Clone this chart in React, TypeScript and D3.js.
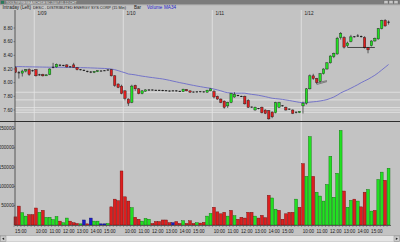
import React from "react";
import * as d3 from "d3";

const W = 400;
const H = 242;

// ---- categories ----
const days = ["1/08", "1/09", "1/10", "1/11", "1/12"];
const slots = [
  "09:30","09:45","10:00","10:15","10:30","10:45","11:00","11:15","11:30","11:45",
  "12:00","12:15","12:30","12:45","13:00","13:15","13:30","13:45","14:00","14:15",
  "14:30","14:45","15:00","15:15","15:30","15:45",
];
const firstDayStartSlot = 20; // 1/08 starts at 14:30
const hourTicks = ["10:00", "11:00", "12:00", "13:00", "14:00", "15:00"];

// ---- series values (15 min bars) ----
const opens = [
  8.22,8.15,8.14,8.17,8.19,8.18,
  8.19,8.11,8.12,8.10,8.12,8.22,8.23,8.26,8.25,8.26,8.23,8.26,8.22,8.19,8.185,8.17,8.16,8.15,8.16,8.17,8.175,8.18,8.19,8.10,7.98,7.95,
  7.88,7.76,7.71,7.96,7.91,7.84,7.875,7.89,7.895,7.89,7.89,7.89,7.885,7.88,7.88,7.885,7.875,7.87,7.90,7.88,7.865,7.86,7.87,7.87,7.86,7.88,
  7.87,7.80,7.76,7.73,7.66,7.71,7.79,7.815,7.80,7.80,7.74,7.645,7.60,7.625,7.64,7.60,7.59,7.57,7.56,7.64,7.665,7.64,7.615,7.60,7.565,7.56,
  7.66,7.70,7.91,8.10,8.06,8.02,8.13,8.20,8.29,8.38,8.42,8.66,8.66,8.54,8.60,8.67,8.68,8.68,8.66,8.51,8.54,8.61,8.64,8.79,8.91,8.88,
];
const highs = [
  8.24,8.17,8.19,8.20,8.21,8.19,
  8.20,8.13,8.13,8.12,8.21,8.29,8.28,8.27,8.26,8.27,8.24,8.29,8.23,8.20,8.19,8.175,8.17,8.17,8.18,8.18,8.18,8.195,8.20,8.11,7.99,7.97,
  7.89,7.77,7.97,7.97,7.92,7.89,7.90,7.905,7.90,7.895,7.895,7.895,7.89,7.885,7.885,7.89,7.88,7.91,7.905,7.885,7.87,7.875,7.875,7.875,7.895,7.915,
  7.89,7.81,7.77,7.74,7.72,7.85,7.86,7.82,7.81,7.81,7.76,7.65,7.65,7.63,7.65,7.61,7.60,7.58,7.72,7.72,7.67,7.65,7.62,7.61,7.575,7.58,
  7.72,7.92,8.12,8.13,8.07,8.14,8.21,8.30,8.40,8.44,8.67,8.74,8.68,8.60,8.70,8.68,8.71,8.69,8.68,8.52,8.62,8.66,8.80,8.92,8.93,8.91,
];
const lows = [
  8.14,8.06,8.09,8.15,8.10,8.16,
  8.09,8.10,8.09,8.10,8.11,8.21,8.22,8.24,8.24,8.22,8.22,8.22,8.18,8.18,8.17,8.15,8.14,8.14,8.155,8.165,8.17,8.175,8.09,7.94,7.92,7.83,
  7.74,7.66,7.70,7.88,7.83,7.83,7.87,7.88,7.885,7.88,7.88,7.875,7.875,7.87,7.875,7.87,7.865,7.865,7.875,7.855,7.855,7.855,7.86,7.855,7.855,7.875,
  7.77,7.75,7.70,7.62,7.63,7.70,7.78,7.80,7.79,7.68,7.63,7.63,7.59,7.61,7.55,7.54,7.46,7.48,7.55,7.63,7.65,7.59,7.60,7.54,7.55,7.555,
  7.55,7.68,7.90,8.04,7.98,8.00,8.12,8.19,8.28,8.36,8.41,8.63,8.50,8.52,8.59,8.66,8.67,8.66,8.50,8.43,8.53,8.60,8.63,8.78,8.82,8.85,
];
const closes = [
  8.15,8.14,8.17,8.19,8.12,8.17,
  8.10,8.12,8.10,8.115,8.20,8.23,8.27,8.25,8.255,8.23,8.235,8.225,8.19,8.19,8.175,8.16,8.15,8.165,8.175,8.17,8.175,8.19,8.10,7.96,7.93,7.84,
  7.77,7.70,7.95,7.91,7.84,7.88,7.895,7.895,7.89,7.885,7.885,7.88,7.88,7.875,7.88,7.875,7.87,7.905,7.88,7.86,7.86,7.87,7.865,7.86,7.89,7.91,
  7.79,7.76,7.71,7.64,7.71,7.84,7.83,7.81,7.795,7.69,7.64,7.64,7.64,7.62,7.56,7.55,7.47,7.50,7.71,7.71,7.66,7.60,7.61,7.55,7.57,7.58,
  7.70,7.91,8.10,8.06,8.00,8.13,8.20,8.29,8.39,8.43,8.65,8.72,8.52,8.58,8.67,8.675,8.685,8.67,8.51,8.48,8.61,8.65,8.79,8.91,8.83,8.89,
];
const volumes = [
  21000,49000,32000,23000,27000,27000,
  44000,33000,38000,20000,20000,14000,22000,10000,6000,18000,10000,6000,4000,3000,13000,3000,18000,10000,10000,3000,3000,4000,47000,67000,63000,140000,
  73000,62000,45000,20000,15000,10000,17000,15000,4000,9000,9000,13000,13000,6000,6000,9000,4000,11000,4000,11000,4000,6000,5000,7000,23000,30000,
  46000,34000,29000,33000,23000,38000,24000,15000,20000,18000,33000,33000,23000,18000,25000,19000,77000,70000,41000,38000,15000,29000,33000,33000,67000,46000,
  159000,126000,229000,126000,85000,75000,62000,105000,178000,72000,134000,245000,88000,46000,64000,67000,62000,47000,85000,92000,36000,38000,118000,137000,116000,147000,
];
// volume tick direction: u = up, d = down, n = unchanged
const volDir = [
  "d","d","u","u","d","d",
  "d","u","d","u","u","u","u","d","u","u","d","d","d","u","n","d","n","u","u","n","n","u","d","d","d","d",
  "d","d","u","d","d","u","u","u","d","d","d","d","d","d","n","d","d","u","d","d","d","u","d","d","u","u",
  "d","d","d","d","u","d","u","d","d","d","d","d","u","d","d","d","d","u","u","d","d","d","d","d","u","d",
  "d","u","u","d","u","u","u","u","u","u","u","u","d","u","u","d","u","d","d","u","u","d","u","u","d","u",
];
// MA34 as drawn on the chart before the 34-bar window is filled
const maHead = [
  8.235,8.235,8.234,8.233,8.232,8.231,8.230,8.229,8.228,8.227,
  8.226,8.226,8.225,8.225,8.224,8.224,8.223,8.222,8.221,8.220,
  8.219,8.218,8.216,8.214,8.212,8.210,8.208,8.205,8.200,8.190,8.176,8.160,8.145,
];
const maPeriod = 34;

// horizontal price levels drawn on the chart
const levels = [7.86, 7.748, 7.635, 7.60, 7.566];
const supportLevel = 8.515;
const supportFrom = 97;
const supportTo = 105;
const markLine = { from: 88, to: 91, p1: 7.995, p2: 8.03 };

const priceTicks = [7.6, 7.8, 8.0, 8.2, 8.4, 8.6, 8.8];
const volTicks = [50000, 100000, 150000, 200000, 250000];

const COL = {
  bg: "#c3c3c3",
  up: "#22e022",
  upEdge: "#0a6a0a",
  dn: "#dd1f1f",
  dnEdge: "#6a0a0a",
  flat: "#1c1cc8",
  flatEdge: "#0a0a60",
  ma: "#6b6bc8",
  light: "#e6e6e6",
  axis: "#3a3a3a",
  text: "#202020",
};

export default function App() {
  // build bar categories
  const cats: { day: string; time: string }[] = [];
  days.forEach((d, di) => {
    const s = di === 0 ? firstDayStartSlot : 0;
    for (let k = s; k < slots.length; k++) cats.push({ day: d, time: slots[k] });
  });
  const N = closes.length;
  const idx = d3.range(N);

  const x = d3.scaleBand<number>().domain(idx).range([14, 390]).paddingInner(0.16).paddingOuter(0);
  const step = x.step();
  const bw = x.bandwidth();
  const cx = (i: number) => (x(i) as number) + bw / 2;

  const py = d3.scaleLinear().domain([7.6, 8.8]).range([110, 28]);
  const vy = d3.scaleLinear().domain([0, 250000]).range([225, 128.5]);

  const ma = idx.map((i) =>
    i < maPeriod - 1 ? maHead[i] : d3.mean(closes.slice(i - maPeriod + 1, i + 1)) as number
  );
  const maLine = d3
    .line<number>()
    .x((i) => cx(i))
    .y((i) => py(ma[i]))
    .curve(d3.curveLinear);

  const dayStarts = idx.filter((i) => i > 0 && cats[i].day !== cats[i - 1].day);
  const hourIdx = idx.filter((i) => hourTicks.includes(cats[i].time));

  const fs = 4.6;
  const font = "Liberation Sans, Arial, sans-serif";

  const priceTop = 10;
  const priceBot = 121;
  const volTop = 122;
  const volBot = 226;

  const candleW = Math.max(1.6, bw * 0.82);

  return (
    <svg
      width={W}
      height={H}
      viewBox={`0 0 ${W} ${H}`}
      style={{ position: "absolute", left: 0, top: 0, display: "block" }}
      fontFamily={font}
    >
      <defs>
        <clipPath id="pclip">
          <rect x={15} y={priceTop} width={W - 15} height={priceBot - priceTop} />
        </clipPath>
      </defs>
      <rect x={0} y={0} width={W} height={H} fill={COL.bg} />
      {/* window title bar */}
      <rect x={0} y={0} width={W} height={4.5} fill="#7c7c7c" />
      <rect x={1} y={0.8} width={3} height={3} fill="#2a7a5a" />
      <text x={6} y={3.6} fontSize={3.4} fill="#e8e8e8">
        TOOLTIP/RESEARCH/DESC 2007-01-12.CHT
      </text>
      <rect x={384} y={0.6} width={4} height={3.2} fill="#c8c8c8" stroke="#555" strokeWidth={0.3} />
      <rect x={389} y={0.6} width={4} height={3.2} fill="#c8c8c8" stroke="#555" strokeWidth={0.3} />
      <rect x={394} y={0.6} width={4} height={3.2} fill="#c8c8c8" stroke="#555" strokeWidth={0.3} />
      <line x1={0} y1={4.8} x2={W} y2={4.8} stroke="#9a9a9a" strokeWidth={0.6} />

      {/* header */}
      <text x={2.5} y={9} fontSize={fs} fill={COL.text}>Intraday (Left)</text>
      <text x={33} y={9} fontSize={3.7} fill={COL.text} textLength={93} lengthAdjust="spacingAndGlyphs">
        DESC - DISTRIBUTED ENERGY SYS CORP (15 Min)
      </text>
      <text x={134} y={9} fontSize={fs} fill={COL.text}>Bar</text>
      <text x={147} y={9} fontSize={fs} fill="#2424c8">Volume</text>
      <text x={164} y={9} fontSize={fs} fill="#2424c8">MA34</text>

      {/* price panel */}
      <g>
        {levels.map((p, k) => (
          <line key={"lv" + k} x1={15} x2={W} y1={py(p)} y2={py(p)} stroke={COL.light} strokeWidth={0.8} />
        ))}
        {dayStarts.map((i) => (
          <line key={"dl" + i} x1={(x(i) as number) - (step - bw) / 2} x2={(x(i) as number) - (step - bw) / 2} y1={priceTop} y2={priceBot} stroke={COL.light} strokeWidth={0.8} />
        ))}
        {dayStarts.map((i) => (
          <text key={"dt" + i} x={(x(i) as number) + 3} y={14.5} fontSize={fs} fill={COL.text}>
            {cats[i].day}
          </text>
        ))}
        <g clipPath="url(#pclip)">
          <path d={maLine(idx) || ""} fill="none" stroke={COL.ma} strokeWidth={0.9} />
          {idx.map((i) => {
            const o = opens[i], c = closes[i];
            const up = c >= o;
            const top = py(Math.max(o, c));
            const bot = py(Math.min(o, c));
            const h = Math.max(0.8, bot - top);
            return (
              <g key={"c" + i}>
                <line x1={cx(i)} x2={cx(i)} y1={py(highs[i])} y2={py(lows[i])} stroke="#111" strokeWidth={0.6} />
                {h <= 1.0 ? (
                  <line x1={cx(i) - candleW / 2} x2={cx(i) + candleW / 2} y1={(top + bot) / 2} y2={(top + bot) / 2} stroke="#111" strokeWidth={0.9} />
                ) : (
                  <rect
                    x={cx(i) - candleW / 2}
                    y={top}
                    width={candleW}
                    height={h}
                    fill={up ? COL.up : COL.dn}
                    stroke="#1a1a1a"
                    strokeWidth={0.4}
                  />
                )}
              </g>
            );
          })}
          <line x1={cx(supportFrom)} x2={cx(supportTo)} y1={py(supportLevel)} y2={py(supportLevel)} stroke="#111" strokeWidth={0.7} />
          <line x1={cx(markLine.from)} x2={cx(markLine.to)} y1={py(markLine.p1)} y2={py(markLine.p2)} stroke="#333" strokeWidth={0.5} />
          <line x1={cx(markLine.from)} x2={cx(markLine.to)} y1={py(markLine.p1) + 1.5} y2={py(markLine.p2) + 1} stroke="#333" strokeWidth={0.5} />
        </g>
        {priceTicks.map((p) => (
          <g key={"pt" + p}>
            <line x1={13.5} x2={15} y1={py(p)} y2={py(p)} stroke={COL.axis} strokeWidth={0.5} />
            <text x={12.5} y={py(p) + 1.6} fontSize={fs} textAnchor="end" fill={COL.text}>
              {p.toFixed(2)}
            </text>
          </g>
        ))}
        <line x1={15} x2={15} y1={priceTop} y2={priceBot} stroke={COL.axis} strokeWidth={0.8} />
        <line x1={0} x2={W} y1={priceBot + 0.5} y2={priceBot + 0.5} stroke="#2e2e2e" strokeWidth={1} />
      </g>

      {/* volume panel */}
      <g>
        {dayStarts.map((i) => (
          <line key={"vdl" + i} x1={(x(i) as number) - (step - bw) / 2} x2={(x(i) as number) - (step - bw) / 2} y1={volTop} y2={volBot} stroke={COL.light} strokeWidth={0.8} />
        ))}
        {idx.map((i) => {
          const d = volDir[i];
          const fill = d === "u" ? COL.up : d === "d" ? COL.dn : COL.flat;
          const edge = d === "u" ? COL.upEdge : d === "d" ? COL.dnEdge : COL.flatEdge;
          const top = vy(volumes[i]);
          return (
            <rect
              key={"v" + i}
              x={x(i) as number}
              y={top}
              width={bw}
              height={vy(0) - top}
              fill={fill}
              stroke={edge}
              strokeWidth={0.4}
            />
          );
        })}
        {volTicks.map((v) => (
          <g key={"vt" + v}>
            <line x1={13.5} x2={15} y1={vy(v)} y2={vy(v)} stroke={COL.axis} strokeWidth={0.5} />
            <text x={14} y={vy(v) + 1.6} fontSize={fs} textAnchor="end" fill={COL.text}>
              {String(v)}
            </text>
          </g>
        ))}
        <line x1={15} x2={15} y1={volTop} y2={volBot} stroke={COL.axis} strokeWidth={0.8} />
        <line x1={15} x2={391} y1={vy(0) + 0.5} y2={vy(0) + 0.5} stroke={COL.axis} strokeWidth={0.7} />
        {idx.map((i) => (
          <line key={"tk" + i} x1={x(i) as number} x2={x(i) as number} y1={vy(0) + 0.5} y2={vy(0) + 2} stroke={COL.axis} strokeWidth={0.4} />
        ))}
        {hourIdx.map((i) => (
          <text key={"hl" + i} x={x(i) as number} y={233} fontSize={fs} textAnchor="middle" fill={COL.text}>
            {cats[i].time}
          </text>
        ))}
      </g>

      {/* scroll bar */}
      <rect x={0} y={235.5} width={W} height={6.5} fill="#e4e4e4" stroke="#9a9a9a" strokeWidth={0.5} />
      <rect x={0.5} y={236} width={5.5} height={5.5} fill="#cfcfcf" stroke="#777" strokeWidth={0.4} />
      <path d="M4.2,237.5 L2,238.75 L4.2,240 Z" fill="#222" />
      <rect x={394} y={236} width={5.5} height={5.5} fill="#cfcfcf" stroke="#777" strokeWidth={0.4} />
      <path d="M395.8,237.5 L398,238.75 L395.8,240 Z" fill="#222" />
    </svg>
  );
}
